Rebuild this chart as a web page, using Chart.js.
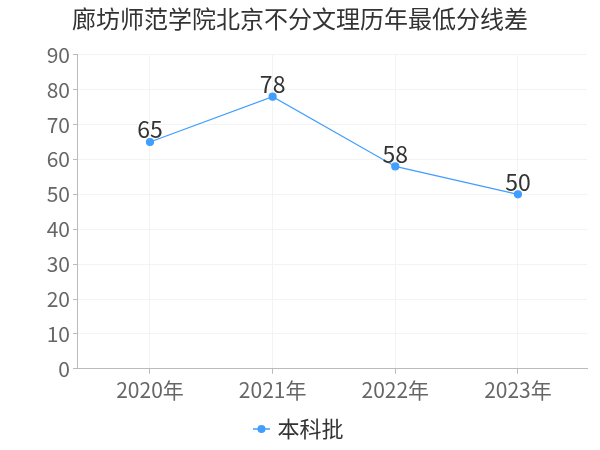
<!DOCTYPE html>
<html>
<head>
<meta charset="utf-8">
<script src="https://cdn.jsdelivr.net/npm/chart.js@4"></script>
<style>
  body { margin: 0; background: #fff; }
  #wrap { width: 600px; height: 450px; }
</style>
</head>
<body>
<div id="wrap"><canvas id="scoreChart"></canvas></div>
<script>
const years = ['2020年', '2021年', '2022年', '2023年'];
const bkScores = [65, 78, 58, 50];
const yTicks = [0, 10, 20, 30, 40, 50, 60, 70, 80, 90];

const FONT = '"Noto Sans CJK SC", "Noto Sans", sans-serif';
const LINE_COLOR = '#409eff';

// legend icon: short line with a dot in the middle
function legendIcon() {
  const c = document.createElement('canvas');
  c.width = 17;
  c.height = 10;
  const g = c.getContext('2d');
  g.strokeStyle = LINE_COLOR;
  g.lineWidth = 1.5;
  g.beginPath();
  g.moveTo(0, 5);
  g.lineTo(17, 5);
  g.stroke();
  g.fillStyle = LINE_COLOR;
  g.beginPath();
  g.arc(8.5, 5, 4, 0, Math.PI * 2);
  g.fill();
  return c;
}

// draw value above every point
const valueLabels = {
  id: 'valueLabels',
  afterDatasetsDraw(chart) {
    const ctx = chart.ctx;
    chart.data.datasets.forEach((ds, i) => {
      chart.getDatasetMeta(i).data.forEach((pt, j) => {
        ctx.save();
        ctx.font = '23px ' + FONT;
        ctx.fillStyle = '#333';
        ctx.textAlign = 'center';
        ctx.textBaseline = 'bottom';
        ctx.fillText(bkScores[j], pt.x, pt.y - 1);
        ctx.restore();
      });
    });
  }
};

const ctx = document.getElementById('scoreChart').getContext('2d');
const chart = new Chart(ctx, {
  type: 'line',
  data: {
    datasets: [{
      label: '本科批',
      data: bkScores.map((v, i) => ({ x: i, y: v })),
      borderColor: LINE_COLOR,
      backgroundColor: LINE_COLOR,
      borderWidth: 1.2,
      pointRadius: 3.5,
      pointHoverRadius: 3.5,
      pointStyle: 'circle',
      tension: 0
    }]
  },
  options: {
    responsive: true,
    maintainAspectRatio: false,
    animation: false,
    layout: { padding: { left: 13, right: 13, top: 0, bottom: 0 } },
    plugins: {
      title: {
        display: true,
        text: '廊坊师范学院北京不分文理历年最低分线差',
        color: '#333',
        font: { family: FONT, size: 24, weight: 'normal' },
        padding: { top: 4, bottom: 22 }
      },
      legend: {
        position: 'bottom',
        labels: {
          color: '#333',
          font: { family: FONT, size: 22 },
          usePointStyle: true,
          pointStyle: legendIcon(),
          boxWidth: 10,
          padding: 11
        }
      },
      tooltip: { enabled: false }
    },
    scales: {
      x: {
        type: 'linear',
        min: -0.595,
        max: 3.563,
        afterBuildTicks(scale) {
          scale.ticks = years.map((y, i) => ({ value: i }));
        },
        grid: { color: '#f3f3f3', drawTicks: true, tickColor: '#bbb', tickLength: 5 },
        border: { color: '#bbb' },
        ticks: {
          color: '#666',
          font: { family: FONT, size: 21 },
          padding: 4,
          callback: v => years[v]
        }
      },
      y: {
        min: 0,
        max: 90,
        afterBuildTicks(scale) {
          scale.ticks = yTicks.map(v => ({ value: v }));
        },
        afterFit(scale) {
          scale.width = 64;
        },
        grid: { color: '#f3f3f3', tickColor: '#bbb', tickLength: 4 },
        border: { color: '#bbb' },
        ticks: { color: '#666', font: { family: FONT, size: 21 }, padding: 3 }
      }
    }
  },
  plugins: [valueLabels]
});
</script>
</body>
</html>
